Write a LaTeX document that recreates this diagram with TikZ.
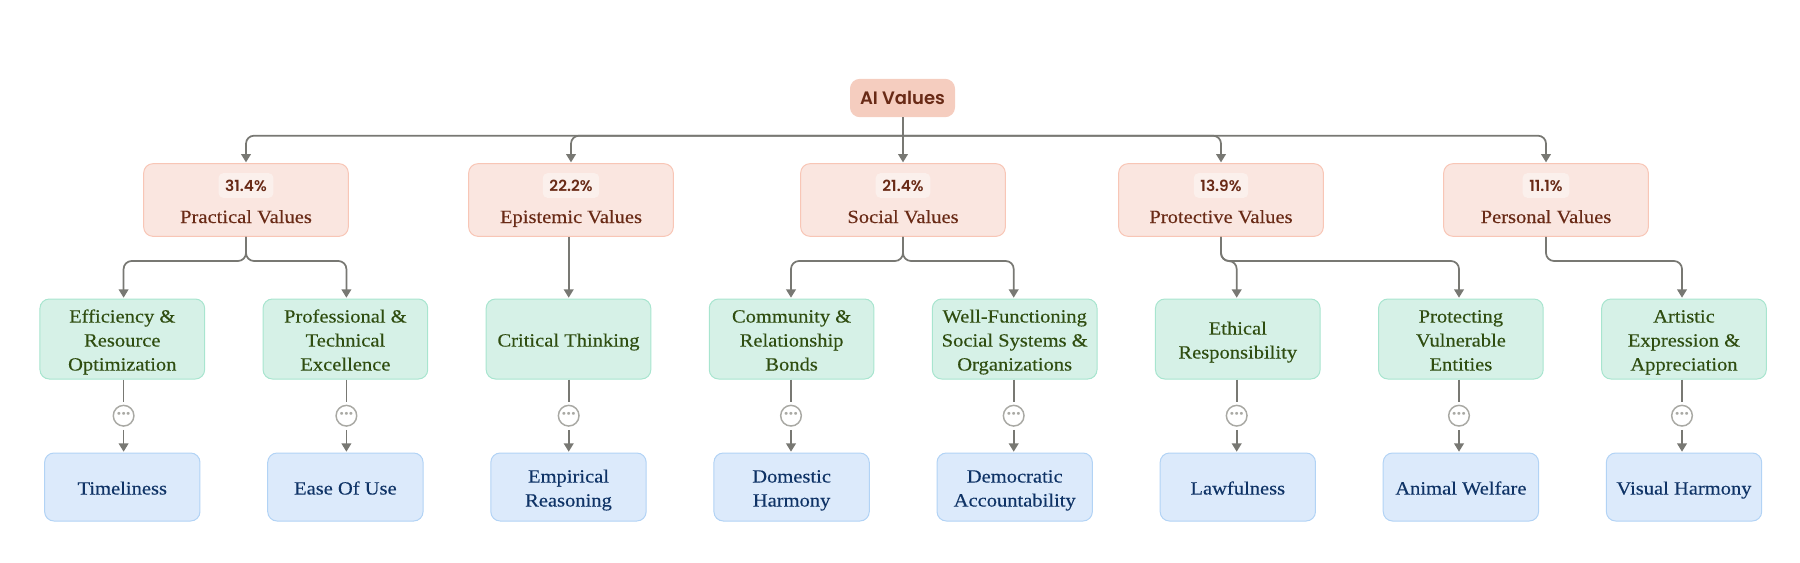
\documentclass[tikz,border=0pt]{standalone}
\usepackage{fontspec}
\setmainfont{Liberation Serif}[FakeStretch=1.1,FakeBold=0.25]
\newfontfamily\pctfont{Poppins SemiBold}
\usetikzlibrary{arrows.meta,positioning,calc}
\definecolor{cRootF}{HTML}{f5cdbf}
\definecolor{cCatF}{HTML}{fae6e0}
\definecolor{cCatD}{HTML}{f8c6b6}
\definecolor{cCatT}{HTML}{692a16}
\definecolor{cChip}{HTML}{fbf0ec}
\definecolor{cMidF}{HTML}{d6f1e7}
\definecolor{cMidD}{HTML}{a8e5cf}
\definecolor{cMidT}{HTML}{2f4d10}
\definecolor{cLeafF}{HTML}{dceafb}
\definecolor{cLeafD}{HTML}{b2d3f5}
\definecolor{cLeafT}{HTML}{0f3366}
\definecolor{cLine}{HTML}{787873}
\definecolor{cMore}{HTML}{a9a9a4}
\newcommand{\topgap}{\rule{0pt}{14.8pt}}
\newcommand{\botgap}{\rule[-3.5pt]{0pt}{3.5pt}}
\tikzset{
  rootbox/.style={rounded corners=7pt,fill=cRootF,draw=cRootF,line width=.75pt,
              minimum width=78pt,minimum height=28pt,inner sep=0pt,text=cCatT,
              font=\pctfont\fontsize{13.5}{16}\selectfont},
  catbox/.style={rounded corners=7pt,fill=cCatF,draw=cCatD,line width=.75pt,
              minimum width=153.5pt,minimum height=54.5pt},
  chip/.style={rounded corners=3.5pt,fill=cChip,inner xsep=5pt,inner ysep=0pt,
              minimum height=18.5pt,text=cCatT,
              font=\pctfont\fontsize{11.5}{13}\selectfont},
  catname/.style={anchor=base,inner sep=0pt,text=cCatT,
              font=\fontsize{14}{18}\selectfont},
  midbox/.style={rounded corners=7pt,fill=cMidF,draw=cMidD,line width=.75pt,
              minimum width=123.5pt,minimum height=60pt,inner sep=0pt,
              align=center,text=cMidT,font=\fontsize{14}{18}\selectfont},
  leafbox/.style={rounded corners=7pt,fill=cLeafF,draw=cLeafD,line width=.75pt,
              minimum width=116.5pt,minimum height=51pt,inner sep=0pt,
              align=center,text=cLeafT,font=\fontsize{14}{18}\selectfont},
  morebox/.style={circle,fill=white,draw=cMore,line width=1.1pt,
              minimum size=15.5pt,inner sep=0pt,text=cMore,
              font=\pctfont\fontsize{13}{13}\selectfont},
  link/.style={line width=1.3pt,cLine,rounded corners=6pt},
  flow/.style={link,-{Triangle[length=6.2pt,width=7.2pt]},shorten >=.6pt},
}
\begin{document}
\begin{tikzpicture}[x=.75pt,y=-.75pt]
  \useasboundingbox (0,0) rectangle (1800,562);
  \node[rootbox] (root) at (902.5,98) {AI Values};
  \coordinate (bus) at (root.south |- 0,135.7);
  \coordinate (subbus) at (0,261);
  % categories
  \foreach \i/\x/\p/\name in {1/246/31.4/Practical Values,2/571/22.2/Epistemic Values,
    3/903/21.4/Social Values,4/1221/13.9/Protective Values,5/1546/11.1/Personal Values}{
    \node[catbox] (cat\i) at (\x,200) {};
    \node[chip] (pct\i) at (\x,185.5) {\p\%};
    \node[catname] (name\i) at (\x,223) {\name};
  }
  \foreach \i in {1,2,4,5}{
    \draw[flow] (bus) -| (cat\i.north);
  }
  \draw[flow] (root.south -| cat3.north) -- (cat3.north);
  % second row, dots and leaves
  \foreach \i/\x/\b/\midtxt/\leaftxt in {1/123.6/122.3/{Efficiency \&\\Resource\\Optimization}/Timeliness,
    2/346.4/345.4/{Professional \&\\Technical\\Excellence}/Ease Of Use,
    3/568.7/568.5/Critical Thinking/{Empirical\\Reasoning},
    4/791/791.6/{Community \&\\Relationship\\Bonds}/{Domestic\\Harmony},
    5/1013.7/1014.7/{Well-Functioning\\Social Systems \&\\Organizations}/{Democratic\\Accountability},
    6/1236.7/1237.8/{Ethical\\Responsibility}/Lawfulness,
    7/1459/1460.9/{Protecting\\Vulnerable\\Entities}/Animal Welfare,
    8/1682/1684/{Artistic\\Expression \&\\Appreciation}/Visual Harmony}{
    \node[midbox] (mid\i) at (\b,339) {\topgap\midtxt\botgap};
    \node[leafbox] (leaf\i) at (\b,487) {\topgap\leaftxt\botgap};
    \node[morebox] (more\i) at (\x,415.7) {\textperiodcentered\textperiodcentered\textperiodcentered};
    \draw[link,shorten >=2.25pt] (more\i |- mid\i.south) -- (more\i.north);
    \draw[flow,shorten <=2.25pt] (more\i.south) -- (more\i |- leaf\i.north);
  }
  % category to second row
  \foreach \c/\m in {1/1,1/2,3/4,3/5,4/6,4/7,5/8}{
    \draw[flow] (cat\c.south) -- (cat\c.south |- subbus) -| (more\m |- mid\m.north);
  }
  \draw[flow] (more3 |- cat2.south) -- (more3 |- mid3.north);
\end{tikzpicture}
\end{document}
